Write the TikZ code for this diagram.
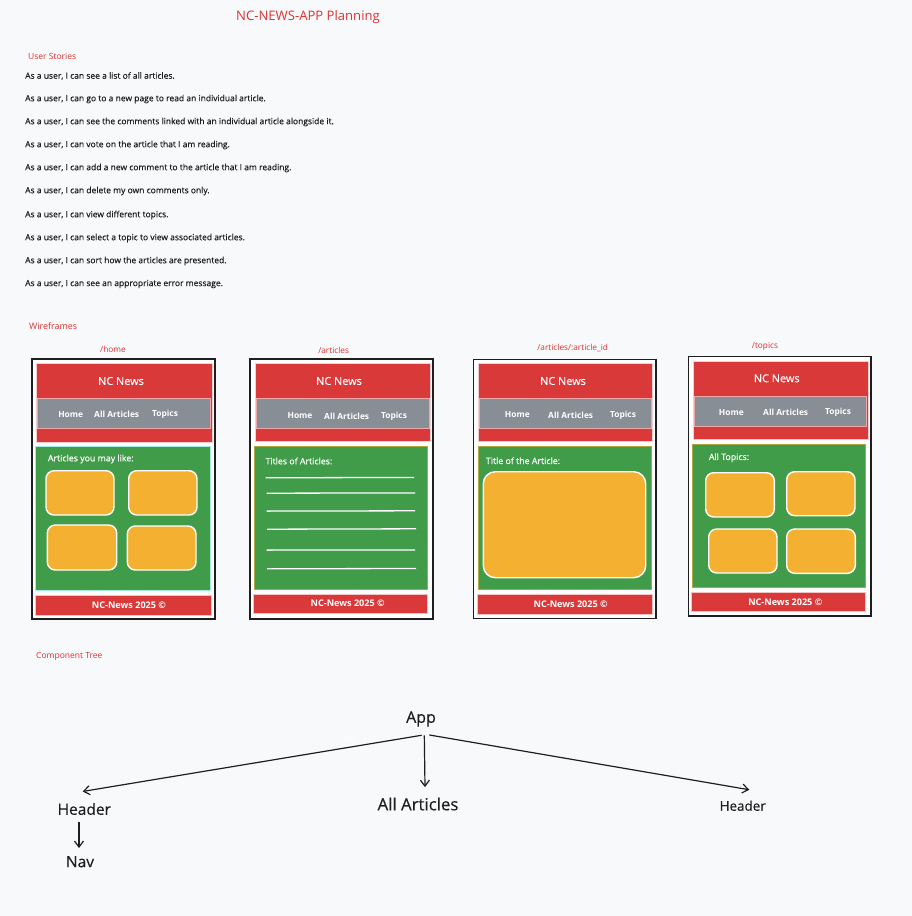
\documentclass[tikz,border=0pt]{standalone}
\usepackage{fontspec}
\setmainfont{Open Sans}
\newfontfamily\medfont{Open Sans}[FakeBold=0.35]
\usetikzlibrary{arrows.meta}

\definecolor{bg}{HTML}{F8F9FA}
\definecolor{ink}{HTML}{1E1E1E}
\definecolor{hred}{HTML}{E03131}
\definecolor{boxred}{HTML}{DA393A}
\definecolor{navgray}{HTML}{878E96}
\definecolor{leaf}{HTML}{409C49}
\definecolor{cardfill}{HTML}{F4B031}

\newcommand{\fsz}[1]{\fontsize{#1}{#1}\selectfont}

\tikzset{
  heading/.style={text=hred, font=\fsz{8.5}, inner sep=0pt, anchor=west},
  story/.style={text=ink, font=\medfont\fsz{8.5}, inner sep=0pt, anchor=west},
  route/.style={text=hred, font=\fsz{8.3}, inner sep=0pt},
  frame/.style={draw=ink, line width=1.5pt, fill=white},
  topbar/.style={fill=boxred, draw=white!75!boxred, line width=0.8pt},
  navbar/.style={fill=navgray, draw=boxred!45!white, line width=0.8pt},
  panel/.style={fill=leaf, draw=#1, line width=0.8pt},
  panel/.default={cardfill!60!leaf},
  card/.style={fill=cardfill, draw=white, line width=1.4pt, rounded corners=8pt},
  footbar/.style={fill=boxred, draw=white!70!boxred, line width=0.8pt},
  brand/.style={text=white, font=\medfont\fsz{10.9}, inner sep=0pt},
  navtext/.style={text=white, font=\fsz{8.4}\bfseries, inner sep=0pt},
  foottext/.style={text=white, font=\fsz{9.1}\bfseries, inner sep=0pt},
  paneltext/.style={text=white, font=\medfont\fsz{8.8}, inner sep=0pt, anchor=west},
  rule/.style={draw=white, line width=1.3pt},
  tree/.style={text=ink, inner sep=0pt},
  arr/.style={draw=ink, line width=1.2pt, -{Straight Barb[length=6pt,width=9pt]}}
}

\begin{document}
\begin{tikzpicture}[x=1pt,y=-1pt]
\fill[bg] (0,0) rectangle (912,916);
\useasboundingbox (0,0) rectangle (912,916);

% title and user stories
\node[text=hred, font=\fsz{13.1}, inner sep=0pt] (title) at (308,17) {NC-NEWS-APP Planning};
\node[heading] (stories) at (28,56) {User Stories};
\node[story] (s1)  at (25,76)  {As a user, I can see a list of all articles.};
\node[story] (s2)  at (25,99)  {As a user, I can go to a new page to read an individual article.};
\node[story] (s3)  at (25,122) {As a user, I can see the comments linked with an individual article alongside it.};
\node[story] (s4)  at (25,145) {As a user, I can vote on the article that I am reading.};
\node[story] (s5)  at (25,168) {As a user, I can add a new comment to the article that I am reading.};
\node[story] (s6)  at (25,191) {As a user, I can delete my own comments only.};
\node[story] (s7)  at (25,215) {As a user, I can view different topics.};
\node[story] (s8)  at (25,238) {As a user, I can select a topic to view associated articles.};
\node[story] (s9)  at (25,261) {As a user, I can sort how the articles are presented.};
\node[story] (s10) at (25,284) {As a user, I can see an appropriate error message.};

\node[heading, font=\fsz{8.9}] (wf) at (29,326) {Wireframes};

% ---- /home ----
\node[route] (r1) at (113,349) {/home};
\draw[frame] (32,359) rectangle (215,619);
\draw[topbar] (36,363) rectangle (212,442);
\draw[navbar] (37.7,398) rectangle (210.7,428.7);
\node[brand] (b1) at (121,381) {NC News};
\node[navtext] (n1a) at (70.7,414.7) {Home};
\node[navtext] (n1b) at (116.7,414.7) {All Articles};
\node[navtext] (n1c) at (165,414.7) {Topics};
\draw[panel=leaf!45!cyan!40!white] (35,446) rectangle (210,590);
\node[paneltext] (p1) at (47.7,459) {Articles you may like:};
\draw[card] (46,470.7) rectangle (114,515);
\draw[card] (128.7,470.7) rectangle (197,515);
\draw[card] (47.3,525) rectangle (116.7,570);
\draw[card] (127.3,526) rectangle (196,570);
\draw[footbar] (35,595) rectangle (211,615);
\node[foottext] (f1) at (129,605) {NC-News 2025 ©};

% ---- /articles ----
\node[route] (r2) at (333.7,350) {/articles};
\draw[frame] (250,359) rectangle (433,619);
\draw[topbar] (255,363) rectangle (430,441.7);
\draw[navbar] (256,398) rectangle (429,428.7);
\node[brand] (b2) at (339,381) {NC News};
\node[navtext] (n2a) at (300,416) {Home};
\node[navtext] (n2b) at (346.7,416) {All Articles};
\node[navtext] (n2c) at (394,416) {Topics};
\draw[panel] (254.3,446) rectangle (427.7,589.3);
\node[paneltext] (p2) at (265.3,461) {Titles of Articles:};
\draw[rule] (265.7,477.8) -- (414,477.4);
\draw[rule] (266.5,493.2) -- (415,492.9);
\draw[rule] (266.5,511.1) -- (415,510.8);
\draw[rule] (267,529.2) -- (416,528.8);
\draw[rule] (266.5,550.1) -- (415,549.9);
\draw[rule] (267,568.8) -- (416,568.5);
\draw[footbar] (253.3,594.3) rectangle (427.7,613.7);
\node[foottext] (f2) at (347.7,603.7) {NC-News 2025 ©};

% ---- /articles/:article_id ----
\node[route] (r3) at (572.7,348) {/articles/:article\_id};
\draw[frame] (473.7,359.3) rectangle (656,618.7);
\draw[topbar] (478.3,363.3) rectangle (652.7,441.3);
\draw[navbar] (479.7,398.3) rectangle (651.7,428.7);
\node[brand] (b3) at (563,381) {NC News};
\node[navtext] (n3a) at (517.3,415) {Home};
\node[navtext] (n3b) at (570.7,415) {All Articles};
\node[navtext] (n3c) at (623,415) {Topics};
\draw[panel] (478.3,446.3) rectangle (651.7,589.3);
\node[paneltext] (p3) at (485.7,460.7) {Title of the Article:};
\draw[card, rounded corners=12pt] (483.3,471.7) rectangle (645.7,577.7);
\draw[footbar] (477.7,594.3) rectangle (652,614);
\node[foottext] (f3) at (570.7,604) {NC-News 2025 ©};

% ---- /topics ----
\node[route] (r4) at (765,346) {/topics};
\draw[frame] (688.7,356.7) rectangle (871,616);
\draw[topbar] (693.3,361.3) rectangle (868,439.3);
\draw[navbar] (694.7,396.3) rectangle (866.7,426.7);
\node[brand] (b4) at (776.7,378.3) {NC News};
\node[navtext] (n4a) at (731.3,412.7) {Home};
\node[navtext] (n4b) at (785.7,412.7) {All Articles};
\node[navtext] (n4c) at (838,412.7) {Topics};
\draw[panel] (692.3,444.3) rectangle (865.3,587.3);
\node[paneltext] (p4) at (708.7,457.7) {All Topics:};
\draw[card] (705.7,472.7) rectangle (774.3,517);
\draw[card] (786.7,471.7) rectangle (855,515.7);
\draw[card] (708.7,529) rectangle (777,573);
\draw[card] (786.7,529) rectangle (855.3,573.3);
\draw[footbar] (691.7,592.3) rectangle (865.7,611.7);
\node[foottext] (f4) at (785.3,602) {NC-News 2025 ©};

% ---- component tree ----
\node[heading] (ct) at (36,656) {Component Tree};
\node[tree, font=\medfont\fsz{16}] (app) at (421,719) {App};
\node[text=white, font=\fsz{7.5}, inner sep=0pt] (ghost) at (350,740) {App};
\node[tree, font=\medfont\fsz{15.5}] (hl) at (84.3,809) {Header};
\node[tree, font=\medfont\fsz{15.5}] (nav) at (80,861.7) {Nav};
\node[tree, font=\medfont\fsz{16.8}] (aa) at (418,804) {All Articles};
\node[tree, font=\medfont\fsz{13.4}] (hr) at (742.7,805.7) {Header};

\draw[arr] ([xshift=0.7pt,yshift=-8.4pt]app.south) -- ([xshift=-1.6pt,yshift=11.4pt]hl.north);
\draw[arr] ([xshift=3.3pt,yshift=-8.4pt]app.south) -- ([xshift=7pt,yshift=10.2pt]aa.north);
\draw[arr] ([xshift=8.3pt,yshift=-8.1pt]app.south) -- ([xshift=6.6pt,yshift=10.6pt]hr.north);
\draw[arr] ([xshift=-5.3pt,yshift=-6.8pt]hl.south) -- ([xshift=-1pt,yshift=7.9pt]nav.north);
\end{tikzpicture}
\end{document}
